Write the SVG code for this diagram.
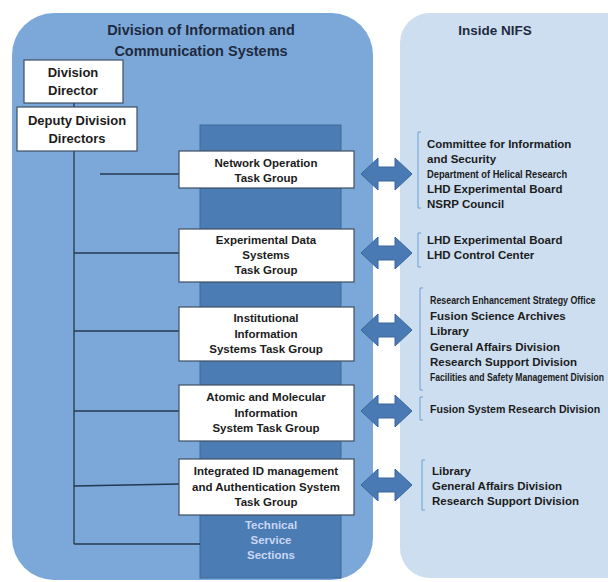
<svg xmlns="http://www.w3.org/2000/svg" width="608" height="582" viewBox="0 0 608 582">
<style>
.t{font-family:"Liberation Sans",Arial,sans-serif;font-weight:bold;fill:#1c1c1c;text-anchor:middle}
.title{font-size:14.5px;fill:#1f2a40}
.dir{font-size:13px}
.tg{font-size:11.5px}
.r{font-family:"Liberation Sans",Arial,sans-serif;font-weight:bold;font-size:11.5px;fill:#1c1c1c}
.box{fill:#ffffff;stroke:#3f4f63;stroke-width:1.2}
.ln{stroke:#24384f;stroke-width:1.3;fill:none}
.arr{fill:#4a7ab3;stroke:#3a6699;stroke-width:1}
.br{fill:none;stroke:#6f9fd3;stroke-width:1}
.tech{font-family:"Liberation Sans",Arial,sans-serif;font-weight:bold;font-size:11.5px;fill:#c9d6f5;text-anchor:middle}
</style>
<rect width="608" height="582" fill="#ffffff"/>
<g id="panel-dics">
<rect x="12" y="13" width="361" height="567" rx="42" ry="42" fill="#7ba8d8"/>
<text class="t title" x="201" y="35">Division of Information and</text>
<text class="t title" x="201" y="56">Communication  Systems</text>
</g>
<g id="panel-nifs">
<rect x="400" y="13" width="250" height="565" rx="30" ry="30" fill="#cddef0"/>
<text class="t title" x="495" y="35" style="font-size:13.5px">Inside NIFS</text>
</g>
<g id="technical-service-sections">
<rect x="200" y="125" width="141" height="453" fill="#4b7cb4" stroke="#3d6a9c" stroke-width="1"/>
<text class="tech" x="271" y="529">Technical</text>
<text class="tech" x="271" y="544">Service</text>
<text class="tech" x="271" y="559">Sections</text>
</g>
<g id="connectors">
<line class="ln" x1="74" y1="103" x2="74" y2="107"/>
<line class="ln" x1="74" y1="151" x2="74" y2="544"/>
<line class="ln" x1="100" y1="174" x2="179" y2="174"/>
<line class="ln" x1="74" y1="253" x2="179" y2="253"/>
<line class="ln" x1="74" y1="331" x2="179" y2="331"/>
<line class="ln" x1="74" y1="411" x2="179" y2="411"/>
<line class="ln" x1="74" y1="486" x2="179" y2="484"/>
<line class="ln" x1="74" y1="544" x2="200" y2="544"/>
<path class="arr" d="M361,174 L378,158 L378,167 L395,167 L395,158 L412,174 L395,190 L395,181 L378,181 L378,190 Z"/>
<path class="arr" d="M361,253 L378,237 L378,246 L395,246 L395,237 L412,253 L395,269 L395,260 L378,260 L378,269 Z"/>
<path class="arr" d="M361,330 L378,314 L378,323 L395,323 L395,314 L412,330 L395,346 L395,337 L378,337 L378,346 Z"/>
<path class="arr" d="M361,411 L378,395 L378,404 L395,404 L395,395 L412,411 L395,427 L395,418 L378,418 L378,427 Z"/>
<path class="arr" d="M361,485 L378,469 L378,478 L395,478 L395,469 L412,485 L395,501 L395,492 L378,492 L378,501 Z"/>
</g>
<g id="division-director">
<rect class="box" x="24" y="60" width="99" height="43"/>
<text class="t dir" x="73" y="77">Division</text>
<text class="t dir" x="73" y="95">Director</text>
</g>
<g id="deputy-division-directors">
<rect class="box" x="17" y="107" width="120" height="44"/>
<text class="t dir" x="77" y="125">Deputy Division</text>
<text class="t dir" x="77" y="143">Directors</text>
</g>
<g id="network-operation">
<rect class="box" x="179" y="151" width="175" height="37"/>
<text class="t tg" x="266" y="167">Network Operation</text>
<text class="t tg" x="266" y="182">Task Group</text>
</g>
<g id="experimental-data">
<rect class="box" x="179" y="229" width="175" height="53"/>
<text class="t tg" x="266" y="244">Experimental Data</text>
<text class="t tg" x="266" y="259">Systems</text>
<text class="t tg" x="266" y="274">Task Group</text>
</g>
<g id="institutional-information">
<rect class="box" x="179" y="307" width="175" height="54"/>
<text class="t tg" x="266" y="322">Institutional</text>
<text class="t tg" x="266" y="338">Information</text>
<text class="t tg" x="266" y="353">Systems Task Group</text>
</g>
<g id="atomic-molecular">
<rect class="box" x="179" y="385" width="175" height="56"/>
<text class="t tg" x="266" y="401">Atomic and Molecular</text>
<text class="t tg" x="266" y="417">Information</text>
<text class="t tg" x="266" y="432">System Task Group</text>
</g>
<g id="integrated-id">
<rect class="box" x="179" y="459" width="175" height="56"/>
<text class="t tg" x="266" y="475">Integrated ID management</text>
<text class="t tg" x="266" y="491">and Authentication System</text>
<text class="t tg" x="266" y="506">Task Group</text>
</g>
<g id="nifs-group-1">
<path class="br" d="M421,132 L418,132 L418,208 L421,208"/>
<text class="r" x="427" y="148">Committee for Information</text>
<text class="r" x="427" y="163">and Security</text>
<text class="r" transform="translate(427,178) scale(0.81,1)" textLength="173" lengthAdjust="spacingAndGlyphs">Department of Helical Research</text>
<text class="r" x="427" y="193">LHD Experimental Board</text>
<text class="r" x="427" y="208">NSRP Council</text>
</g>
<g id="nifs-group-2">
<path class="br" d="M421,233 L418,233 L418,267 L421,267"/>
<text class="r" x="427" y="244">LHD Experimental Board</text>
<text class="r" x="427" y="259">LHD Control Center</text>
</g>
<g id="nifs-group-3">
<path class="br" d="M423,288 L420,288 L420,390 L423,390"/>
<text class="r" transform="translate(430,304) scale(0.77,1)" textLength="215" lengthAdjust="spacingAndGlyphs">Research Enhancement Strategy Office</text>
<text class="r" x="430" y="320">Fusion Science Archives</text>
<text class="r" x="430" y="335">Library</text>
<text class="r" x="430" y="351">General Affairs Division</text>
<text class="r" x="430" y="366">Research Support Division</text>
<text class="r" transform="translate(430,381) scale(0.75,1)" textLength="232" lengthAdjust="spacingAndGlyphs">Facilities and Safety Management Division</text>
</g>
<g id="nifs-group-4">
<path class="br" d="M423,397 L420,397 L420,420 L423,420"/>
<text class="r" transform="translate(430,413) scale(0.92,1)" textLength="185" lengthAdjust="spacingAndGlyphs">Fusion System Research Division</text>
</g>
<g id="nifs-group-5">
<path class="br" d="M425,460 L422,460 L422,510 L425,510"/>
<text class="r" x="432" y="475">Library</text>
<text class="r" x="432" y="490">General Affairs Division</text>
<text class="r" x="432" y="505">Research Support Division</text>
</g>
</svg>
